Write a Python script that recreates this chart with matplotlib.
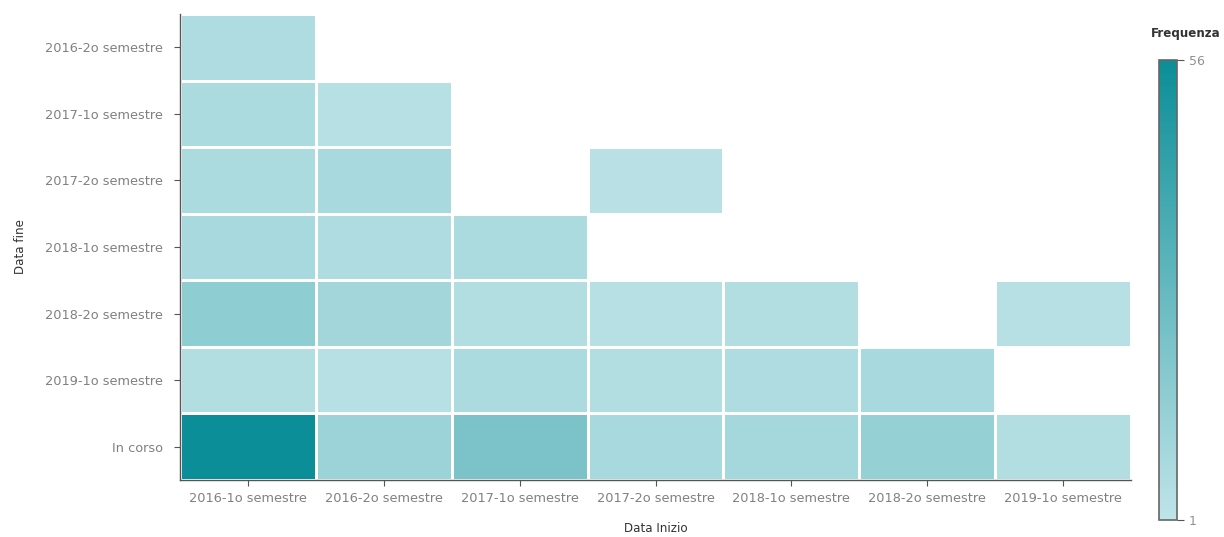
import numpy as np
import matplotlib
matplotlib.use("Agg")
import matplotlib.pyplot as plt
from matplotlib.colors import LinearSegmentedColormap, Normalize

start_labels = ["2016-1o semestre", "2016-2o semestre", "2017-1o semestre", "2017-2o semestre",
                "2018-1o semestre", "2018-2o semestre", "2019-1o semestre"]
end_labels = ["2016-2o semestre", "2017-1o semestre", "2017-2o semestre", "2018-1o semestre",
              "2018-2o semestre", "2019-1o semestre", "In corso"]
nan = np.nan
# rows = end (top to bottom), columns = start
freq = np.array([
    [6,   nan, nan, nan, nan, nan, nan],
    [7,   4,   nan, nan, nan, nan, nan],
    [7,   8,   nan, 3,   nan, nan, nan],
    [8,   6,   7,   nan, nan, nan, nan],
    [16,  10,  5,   4,   5,   nan, 4],
    [5,   4,   7,   5,   6,   8,   nan],
    [56,  12,  22,  8,   9,   14,  5],
])
vmin, vmax = 1, 56

cmap = LinearSegmentedColormap.from_list("teal", ["#bfe4e8", "#0b8e97"])
norm = Normalize(vmin=vmin, vmax=vmax)

fig = plt.figure(figsize=(12.24, 5.37), dpi=100)
ax = fig.add_axes([180/1224, 1-480/537, (1131-180)/1224, (480-14)/537])
masked = np.ma.masked_invalid(freq)
ax.pcolormesh(np.arange(len(start_labels)+1), np.arange(len(end_labels)+1), masked,
              cmap=cmap, norm=norm, edgecolor="white", linewidth=1.8)
ax.set_xlim(0, len(start_labels))
ax.set_ylim(len(end_labels), 0)
ax.set_xticks(np.arange(len(start_labels)) + 0.5)
ax.set_xticklabels(start_labels)
ax.set_yticks(np.arange(len(end_labels)) + 0.5)
ax.set_yticklabels(end_labels)
for s in ["top", "right"]:
    ax.spines[s].set_visible(False)
for s in ["left", "bottom"]:
    ax.spines[s].set_color("#555555")
    ax.spines[s].set_linewidth(1.0)
ax.tick_params(axis="both", colors="#555555", labelcolor="#808080", labelsize=9.3, length=4, width=0.8)
ax.tick_params(axis="x", pad=5)
ax.tick_params(axis="y", pad=8)
ax.set_xlabel("Data Inizio", fontsize=8.6, color="#333333", labelpad=12)
ax.set_ylabel("Data fine", fontsize=8.6, color="#333333", labelpad=13)

cax = fig.add_axes([1159/1224, 1-520/537, 18/1224, (520-60)/537])
sm = matplotlib.cm.ScalarMappable(norm=norm, cmap=cmap)
cb = fig.colorbar(sm, cax=cax)
cb.set_ticks([vmin, vmax])
cb.set_ticklabels([str(vmin), str(vmax)])
cb.outline.set_edgecolor("#666666")
cb.outline.set_linewidth(1.2)
cax.tick_params(colors="#555555", labelcolor="#909090", labelsize=9, length=5, width=0.8)
fig.text(1186/1224, 1-33/537, "Frequenza", fontsize=8.6, color="#333333", ha="center", va="center",
         fontweight="bold")

fig.savefig("out.png", dpi=100)
